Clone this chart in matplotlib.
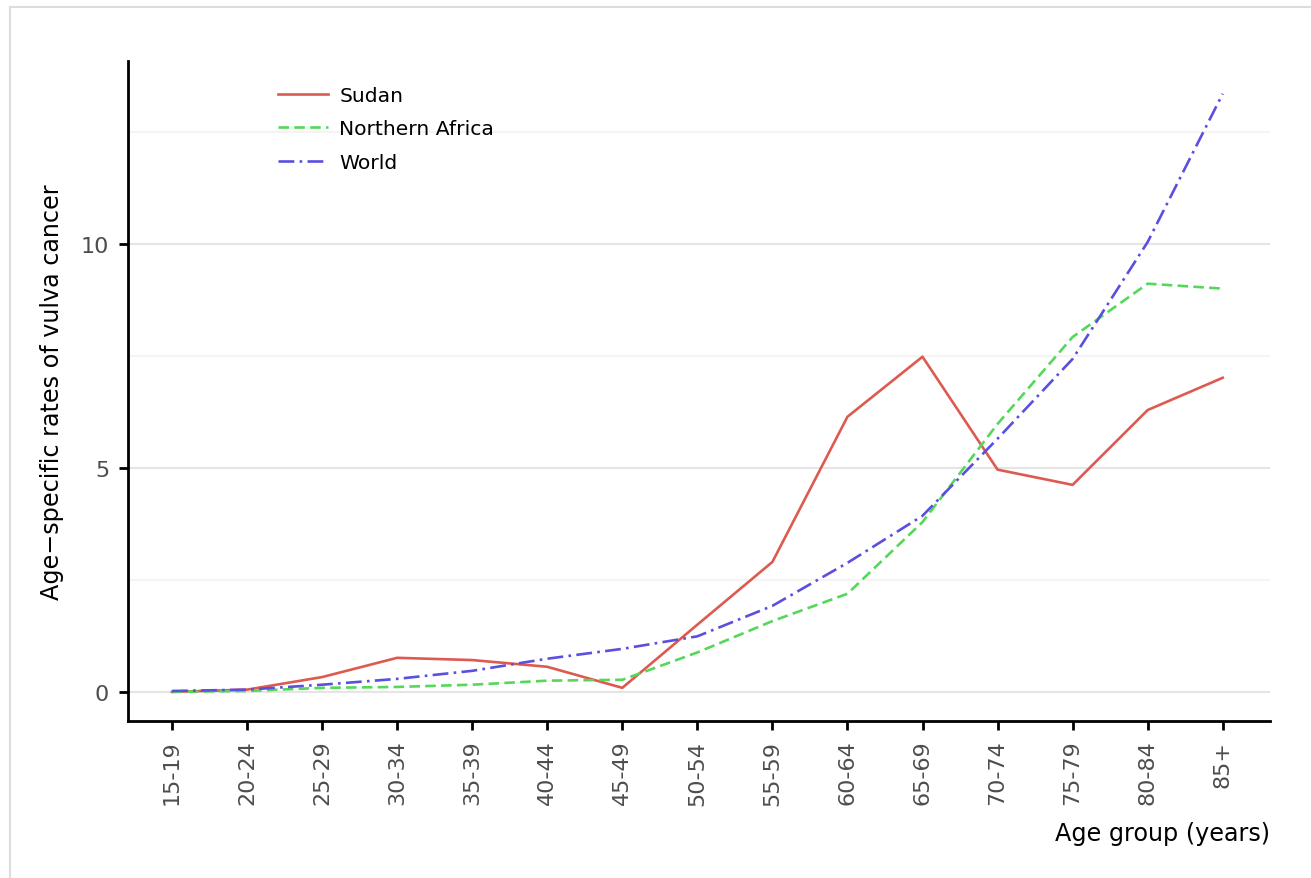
import matplotlib.pyplot as plt
from matplotlib.lines import Line2D
from matplotlib.ticker import MultipleLocator

age_groups = ["15-19", "20-24", "25-29", "30-34", "35-39", "40-44", "45-49",
              "50-54", "55-59", "60-64", "65-69", "70-74", "75-79", "80-84", "85+"]

sudan = [0.00, 0.05, 0.33, 0.76, 0.71, 0.56, 0.09,
         1.50, 2.90, 6.14, 7.48, 4.96, 4.62, 6.29, 7.01]
northern_africa = [0.00, 0.02, 0.09, 0.11, 0.16, 0.25, 0.27,
                   0.88, 1.58, 2.19, 3.79, 5.98, 7.92, 9.11, 9.00]
world = [0.02, 0.05, 0.16, 0.29, 0.47, 0.74, 0.96,
         1.24, 1.92, 2.88, 3.93, 5.65, 7.43, 10.04, 13.35]

W, H = 1311, 879
fig = plt.figure(figsize=(W / 100, H / 100), dpi=100)
ax = fig.add_axes([128 / W, 1 - 722 / H, (1270 - 128) / W, (722 - 62) / H])

x = list(range(len(age_groups)))
lw = 1.9
ax.plot(x, sudan, color="#DD5A50", lw=lw, ls="-", label="Sudan")
ax.plot(x, northern_africa, color="#55D85A", lw=lw, ls=(0, (4, 2)), label="Northern Africa")
ax.plot(x, world, color="#5A4FDF", lw=lw, ls=(0, (6, 2, 1, 2)), label="World")

ax.set_xlim(-0.586, 14.63)
ax.set_ylim(-0.65, 14.08)
ax.set_xticks(x)
ax.set_xticklabels(age_groups, rotation=90)
ax.yaxis.set_major_locator(MultipleLocator(5))
ax.yaxis.set_minor_locator(MultipleLocator(2.5))
ax.grid(axis="y", which="major", color="#e5e5e5", lw=1.5)
ax.grid(axis="y", which="minor", color="#f4f4f4", lw=1.5)
ax.set_axisbelow(True)

for side in ["top", "right"]:
    ax.spines[side].set_visible(False)
for side in ["left", "bottom"]:
    ax.spines[side].set_linewidth(2)
    ax.spines[side].set_color("black")

ax.tick_params(axis="both", which="major", length=6.5, width=2, color="black",
               labelsize=16, labelcolor="#4d4d4d", pad=7)
ax.tick_params(axis="y", which="minor", length=0)

ax.set_xlabel("Age group (years)", fontsize=17.2, loc="right", labelpad=12)
ax.set_ylabel("Age\u2212specific rates of vulva cancer", fontsize=17.2, labelpad=12)

ax.legend(loc="upper left", bbox_to_anchor=(0.115, 0.99), frameon=False,
          fontsize=14.6, handlelength=2.5, labelspacing=0.72, handletextpad=0.55)

# light frame on top and left of the figure
fig.add_artist(Line2D([10 / W, 10 / W], [0, 1 - 8 / H], color="#dddddd", lw=1.5,
                      transform=fig.transFigure))
fig.add_artist(Line2D([10 / W, 1], [1 - 8 / H, 1 - 8 / H], color="#dddddd", lw=1.5,
                      transform=fig.transFigure))

fig.savefig("out.png", dpi=100)
